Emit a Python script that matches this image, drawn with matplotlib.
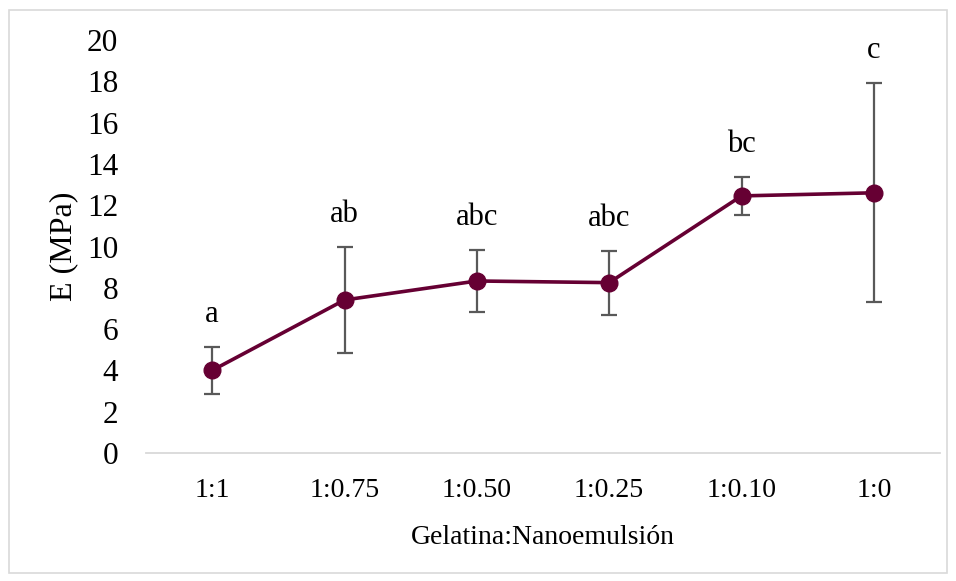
import matplotlib

matplotlib.use("Agg")

import matplotlib.pyplot as plt
import numpy as np
from matplotlib.patches import Rectangle

# Young's modulus by gelatin:nanoemulsion ratio
ratios = ["1:1", "1:0.75", "1:0.50", "1:0.25", "1:0.10", "1:0"]
modulus = [4.0, 7.41, 8.33, 8.25, 12.45, 12.6]
modulus_sd = [1.15, 2.57, 1.48, 1.55, 0.92, 5.3]
letters = ["a", "ab", "abc", "abc", "bc", "c"]

LINE_COLOR = "#660033"
ERR_COLOR = "#595959"

plt.rcParams["font.family"] = ["Liberation Serif", "DejaVu Serif"]

fig = plt.figure(figsize=(9.56, 5.81), dpi=100)
ax = fig.add_axes([146 / 956, 1 - 453 / 581, (940 - 146) / 956, (453 - 40) / 581])

x = np.arange(len(ratios))
ax.errorbar(x, modulus, yerr=modulus_sd, fmt="none", ecolor=ERR_COLOR,
            elinewidth=1.6, capsize=5.5, capthick=1.6, zorder=2)
ax.plot(x, modulus, color=LINE_COLOR, linewidth=2.6, marker="o",
        markersize=12, zorder=3)

for xi, yi, sd, lab in zip(x, modulus, modulus_sd, letters):
    ax.annotate(lab, (xi, yi + sd), xytext=(0, 13), textcoords="offset points",
                ha="center", va="bottom", fontsize=22)

ax.set_xlim(-0.5, len(ratios) - 0.5)
ax.set_ylim(0, 20)
ax.set_yticks(np.arange(0, 21, 2))
ax.set_xticks(x)
ax.set_xticklabels(ratios)
ax.tick_params(axis="y", length=0, pad=20, labelsize=22.5)
ax.tick_params(axis="x", length=0, pad=18, labelsize=20)
ax.set_ylabel("E (MPa)", fontsize=23, labelpad=6)
ax.set_xlabel("Gelatina:Nanoemulsión", fontsize=20, labelpad=16)

for side in ("top", "right", "left"):
    ax.spines[side].set_visible(False)
ax.spines["bottom"].set_color("#d9d9d9")
ax.spines["bottom"].set_linewidth(1.3)

# light outer frame around the chart
fig.patches.append(Rectangle((9 / 956, 1 - 573 / 581), (947 - 9) / 956, (573 - 10) / 581,
                             transform=fig.transFigure, fill=False,
                             edgecolor="#d9d9d9", linewidth=1.2))

fig.savefig("out.png", dpi=100)
